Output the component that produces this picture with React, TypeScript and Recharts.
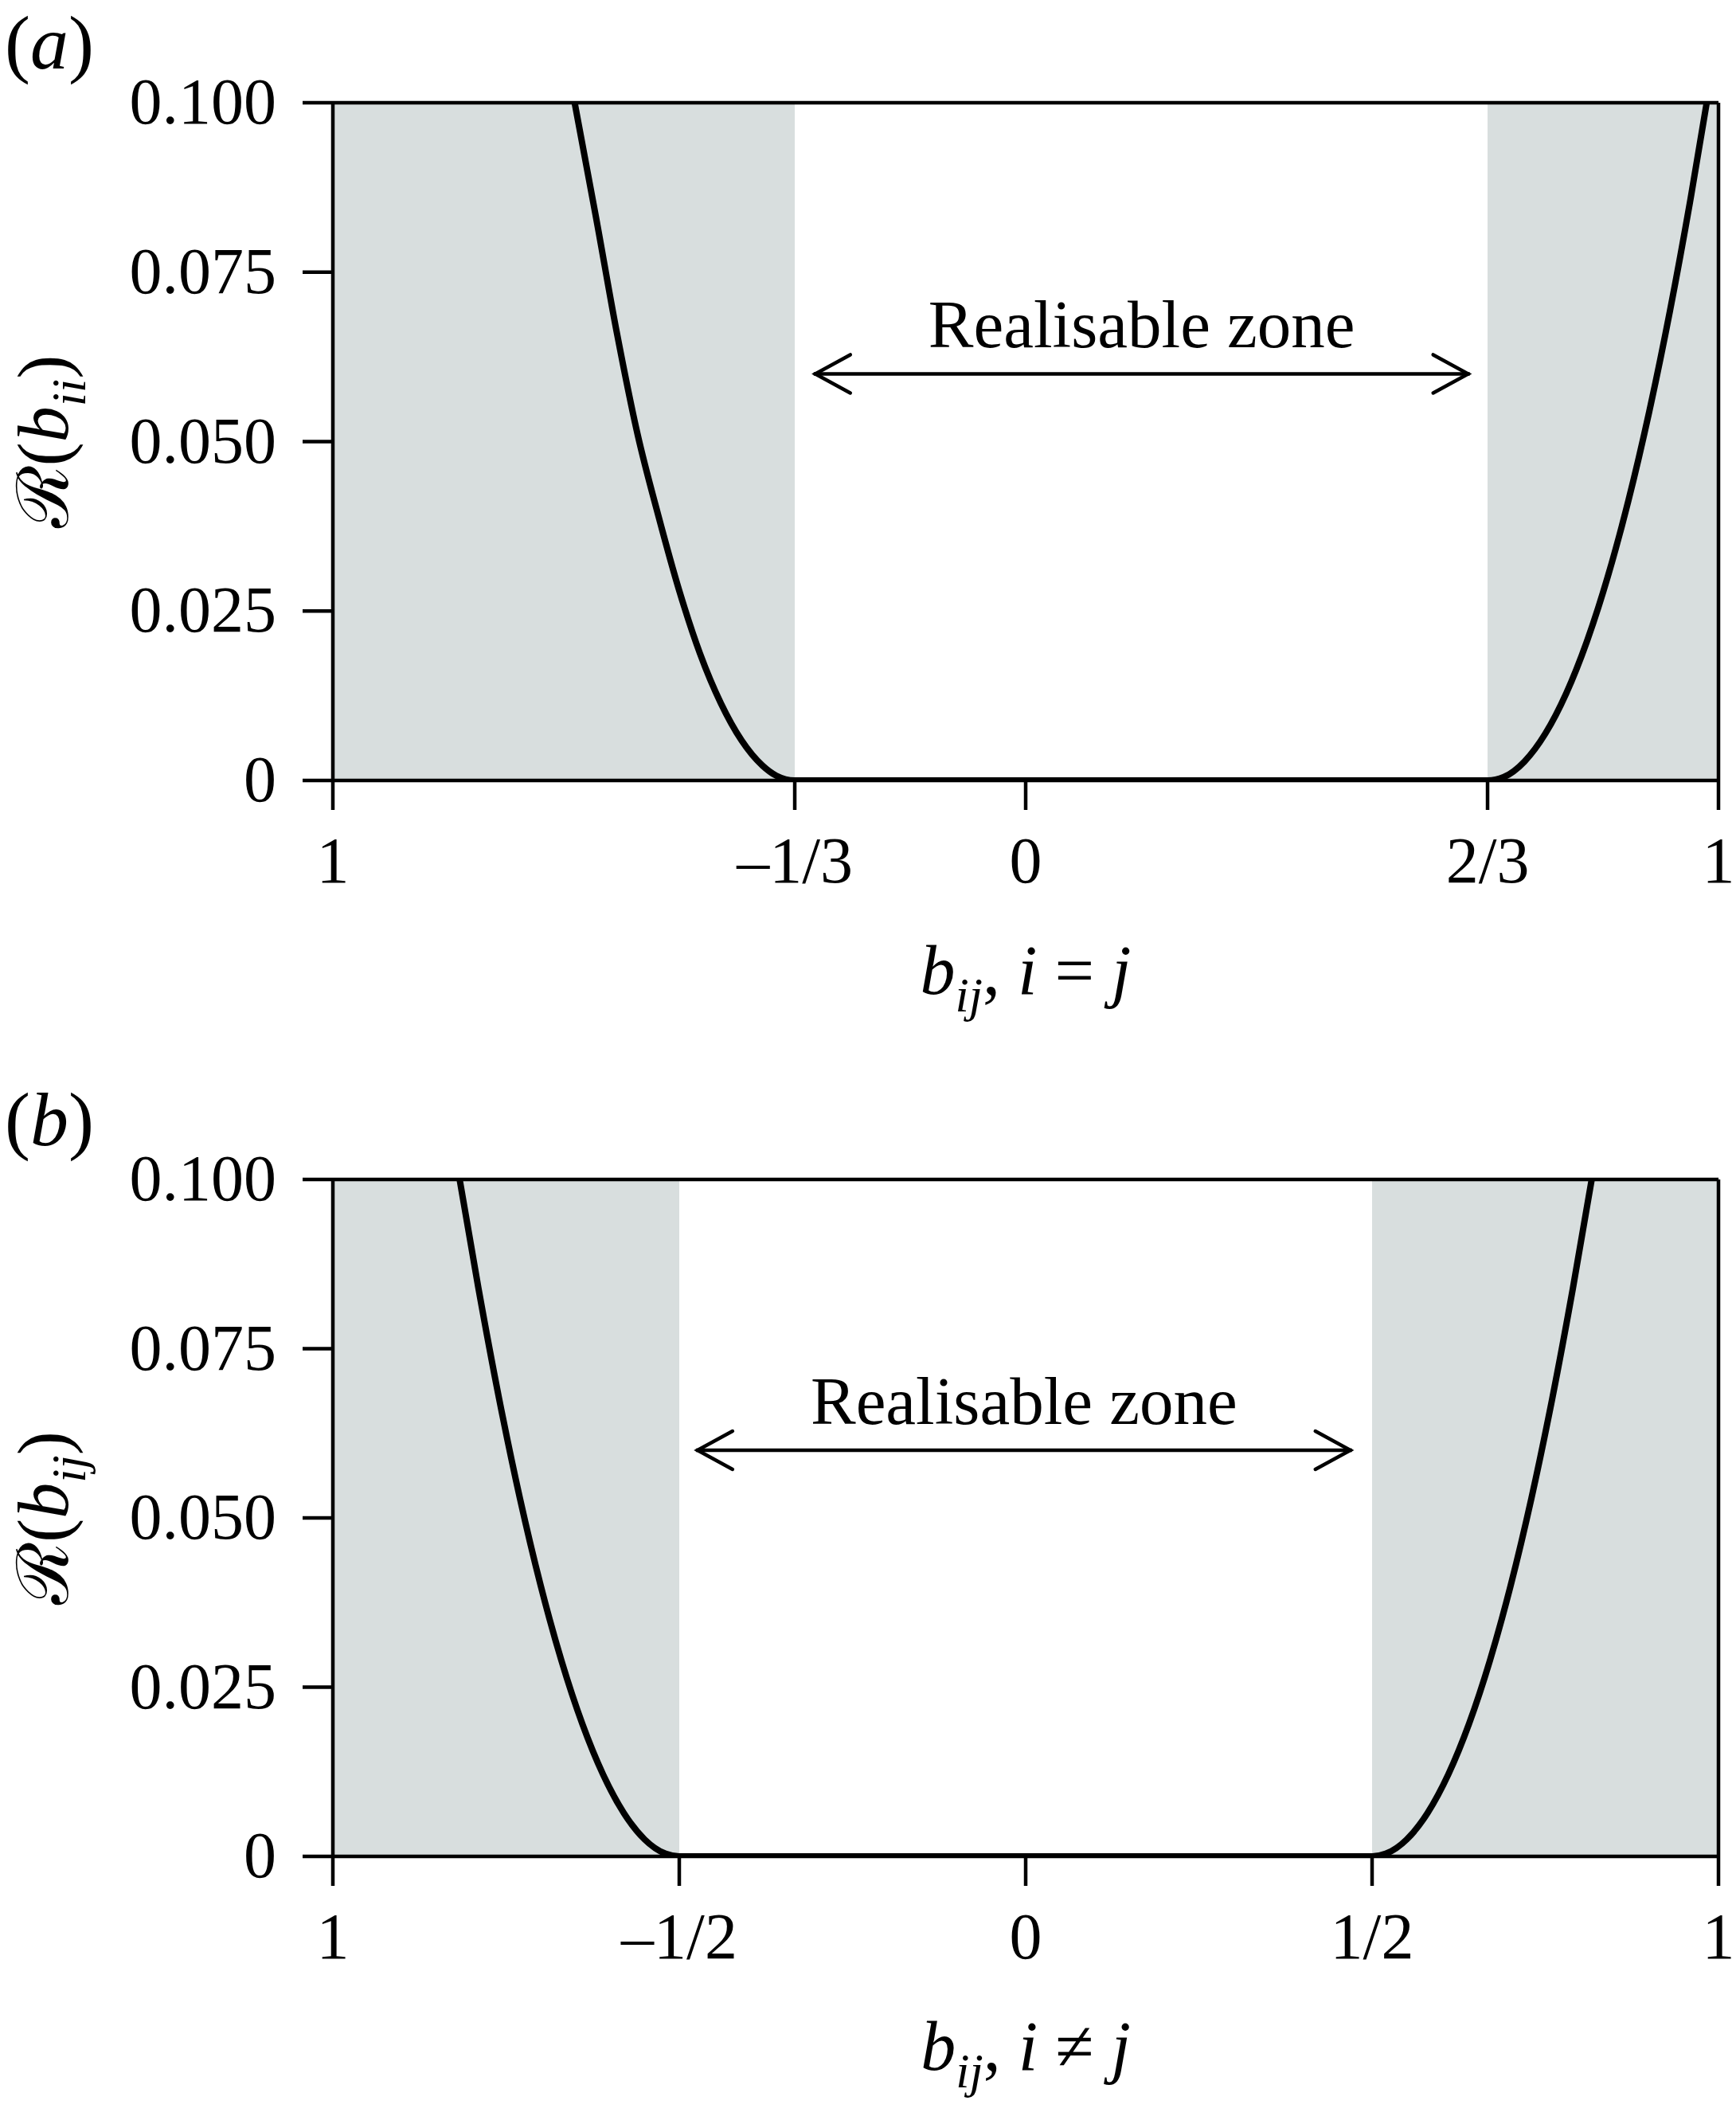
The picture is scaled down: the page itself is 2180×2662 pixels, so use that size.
import { Line, LineChart, ReferenceArea, ReferenceLine, XAxis, YAxis } from "recharts";

const FONT = '"Liberation Serif", "Times New Roman", "DejaVu Serif", serif';
const SHADE = "#d8dede";

// panel (a): diagonal components, i = j
const aB = [-0.651, -0.62, -0.59, -0.56, -0.53, -0.5, -0.47, -0.44, -0.41, -0.38, -0.36, -0.3333,
  0.6667, 0.69, 0.72, 0.75, 0.78, 0.81, 0.84, 0.87, 0.9, 0.93, 0.96, 0.983];
const aR = [0.1, 0.083, 0.066, 0.051, 0.039, 0.028, 0.0187, 0.0114, 0.0059, 0.0022, 0.0007, 0,
  0, 0.0005, 0.0028, 0.0069, 0.0128, 0.0205, 0.03, 0.0413, 0.0544, 0.0693, 0.086, 0.1];
const aTicks = [-1, -0.3333, 0, 0.6667, 1];
const aTickLabels = ["1", "–1/3", "0", "2/3", "1"];
const aShade = [[-1, -0.3333], [0.6667, 1]];
const aArrow = [-0.306, 0.641];

// panel (b): off-diagonal components, i ≠ j
const bB = [-0.817, -0.79, -0.76, -0.73, -0.7, -0.67, -0.64, -0.61, -0.58, -0.55, -0.52, -0.5,
  0.5, 0.52, 0.55, 0.58, 0.61, 0.64, 0.67, 0.7, 0.73, 0.76, 0.79, 0.817];
const bR = [0.1, 0.084, 0.0676, 0.0529, 0.04, 0.0289, 0.0196, 0.0121, 0.0064, 0.0025, 0.0004, 0,
  0, 0.0004, 0.0025, 0.0064, 0.0121, 0.0196, 0.0289, 0.04, 0.0529, 0.0676, 0.084, 0.1];
const bTicks = [-1, -0.5, 0, 0.5, 1];
const bTickLabels = ["1", "–1/2", "0", "1/2", "1"];
const bShade = [[-1, -0.5], [0.5, 1]];
const bArrow = [-0.476, 0.471];

const yTicks = [0, 0.025, 0.05, 0.075, 0.1];
const yTickLabels = ["0", "0.025", "0.050", "0.075", "0.100"];
const arrowY = 0.06;

const AXIS = 4.5;

function ZoneArrow(props: any) {
  const { x1, y1, x2, y2 } = props;
  const h = 46;
  const w = 24;
  return (
    <g>
      <line x1={x1} y1={y1} x2={x2} y2={y2} stroke="#000" strokeWidth={AXIS} />
      <polyline
        points={`${x1 + h},${y1 - w} ${x1 + 2},${y1} ${x1 + h},${y1 + w}`}
        fill="none"
        stroke="#000"
        strokeWidth={AXIS}
        strokeLinecap="round"
      />
      <polyline
        points={`${x2 - h},${y2 - w} ${x2 - 2},${y2} ${x2 - h},${y2 + w}`}
        fill="none"
        stroke="#000"
        strokeWidth={AXIS}
        strokeLinecap="round"
      />
      <text
        x={(x1 + x2) / 2}
        y={y1 - 33}
        textAnchor="middle"
        fontFamily={FONT}
        fontSize={85}
        fill="#000"
      >
        Realisable zone
      </text>
    </g>
  );
}

type PanelProps = {
  letter: string;
  xs: number[];
  rs: number[];
  ticks: number[];
  tickLabels: string[];
  shade: number[][];
  arrow: number[];
  sub: string;
  relation: string;
  top: number;
  bottom: number;
  height: number;
};

function Panel({ letter, xs, rs, ticks, tickLabels, shade, arrow, sub, relation, top, bottom, height }: PanelProps) {
  const data = xs.map((b, i) => ({ b, r: rs[i] }));

  return (
    <div style={{ position: "relative", width: 2180, height }}>
      <svg
        width={200}
        height={120}
        style={{ position: "absolute", left: 0, top: top - 129, overflow: "visible" }}
      >
        <text x={6} y={86} fontFamily={FONT} fontSize={96} fill="#000">
          (<tspan fontStyle="italic">{letter}</tspan>)
        </text>
      </svg>
      <LineChart
        width={2180}
        height={height}
        data={data}
        margin={{ top, right: 22, left: 0, bottom: 0 }}
      >
        {shade.map(([x1, x2], i) => (
          <ReferenceArea
            key={i}
            x1={x1}
            x2={x2}
            y1={0}
            y2={0.1}
            fill={SHADE}
            fillOpacity={1}
            stroke="none"
          />
        ))}
        <XAxis
          type="number"
          dataKey="b"
          domain={[-1, 1]}
          ticks={ticks}
          allowDataOverflow
          height={bottom}
          tickSize={37}
          tickMargin={91}
          axisLine={{ stroke: "#000", strokeWidth: AXIS }}
          tickLine={{ stroke: "#000", strokeWidth: AXIS }}
          tick={(p: any) => (
            <text x={p.x} y={p.y} textAnchor="middle" fontFamily={FONT} fontSize={82} fill="#000">
              {tickLabels[ticks.indexOf(p.payload.value)]}
            </text>
          )}
          label={(p: any) => {
            const vb = p.viewBox;
            return (
              <text
                x={vb.x + vb.width / 2}
                y={vb.y + 268}
                textAnchor="middle"
                fontFamily={FONT}
                fontSize={88}
                fill="#000"
              >
                <tspan fontStyle="italic">b</tspan>
                <tspan fontStyle="italic" fontSize={62} dy={22}>ij</tspan>
                <tspan dy={-22}>, </tspan>
                <tspan fontStyle="italic">i</tspan>
                <tspan> {relation} </tspan>
                <tspan fontStyle="italic">j</tspan>
              </text>
            );
          }}
        />
        <YAxis
          type="number"
          domain={[0, 0.1]}
          ticks={yTicks}
          allowDataOverflow
          width={418}
          tickSize={38}
          tickMargin={33}
          axisLine={{ stroke: "#000", strokeWidth: AXIS }}
          tickLine={{ stroke: "#000", strokeWidth: AXIS }}
          tick={(p: any) => (
            <text x={p.x} y={p.y + 26} textAnchor="end" fontFamily={FONT} fontSize={82} fill="#000">
              {yTickLabels[yTicks.indexOf(p.payload.value)]}
            </text>
          )}
          label={(p: any) => {
            const vb = p.viewBox;
            const cx = vb.x + 85;
            const cy = vb.y + vb.height / 2;
            return (
              <text
                x={cx}
                y={cy}
                transform={`rotate(-90, ${cx}, ${cy})`}
                textAnchor="middle"
                fontFamily={FONT}
                fontSize={90}
                fill="#000"
              >
                ℛ(<tspan fontStyle="italic">b</tspan>
                <tspan fontStyle="italic" fontSize={62} dy={22}>{sub}</tspan>
                <tspan dy={-22}>)</tspan>
              </text>
            );
          }}
        />
        <ReferenceLine y={0.1} stroke="#000" strokeWidth={AXIS} />
        <ReferenceLine x={1} stroke="#000" strokeWidth={AXIS} />
        <ReferenceLine
          segment={[
            { x: arrow[0], y: arrowY },
            { x: arrow[1], y: arrowY },
          ]}
          shape={ZoneArrow}
        />
        <Line
          type="monotone"
          dataKey="r"
          stroke="#000"
          strokeWidth={8}
          dot={false}
          isAnimationActive={false}
        />
      </LineChart>
    </div>
  );
}

export default function App() {
  return (
    <div style={{ position: "absolute", left: 0, top: 0, width: 2180, height: 2662, background: "#fff" }}>
      <Panel
        letter="a"
        xs={aB}
        rs={aR}
        ticks={aTicks}
        tickLabels={aTickLabels}
        shade={aShade}
        arrow={aArrow}
        sub="ii"
        relation="="
        top={129}
        bottom={351}
        height={1331}
      />
      <Panel
        letter="b"
        xs={bB}
        rs={bR}
        ticks={bTicks}
        tickLabels={bTickLabels}
        shade={bShade}
        arrow={bArrow}
        sub="ij"
        relation="≠"
        top={150}
        bottom={331}
        height={1331}
      />
    </div>
  );
}
